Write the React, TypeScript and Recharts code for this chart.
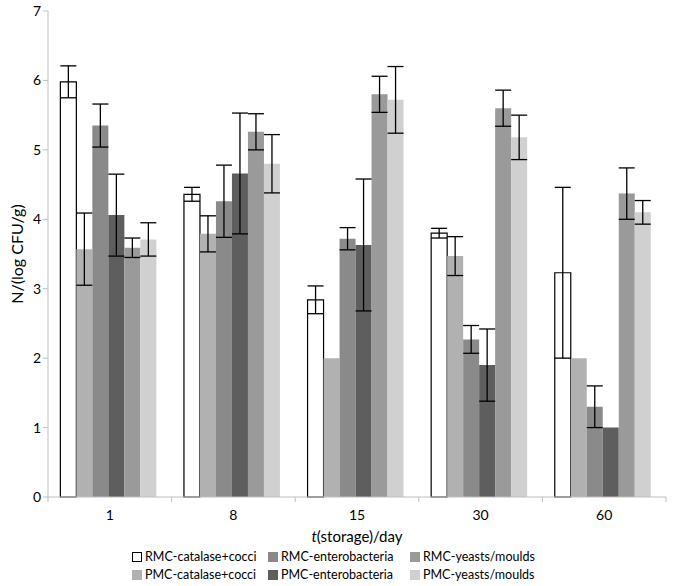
import { Bar, BarChart, ErrorBar, XAxis, YAxis } from "recharts";

const days = ["1", "8", "15", "30", "60"];

const rmcCatMean = [5.98, 4.36, 2.84, 3.8, 3.23];
const rmcCatErr = [0.23, 0.1, 0.2, 0.07, 1.23];
const pmcCatMean = [3.57, 3.79, 2.0, 3.47, 2.0];
const pmcCatErr = [0.52, 0.26, 0, 0.28, 0];
const rmcEntMean = [5.35, 4.26, 3.72, 2.27, 1.3];
const rmcEntErr = [0.31, 0.52, 0.16, 0.2, 0.3];
const pmcEntMean = [4.06, 4.66, 3.63, 1.9, 1.0];
const pmcEntErr = [0.59, 0.87, 0.95, 0.52, 0];
const rmcYeaMean = [3.59, 5.26, 5.8, 5.6, 4.37];
const rmcYeaErr = [0.14, 0.26, 0.26, 0.26, 0.37];
const pmcYeaMean = [3.71, 4.8, 5.72, 5.18, 4.1];
const pmcYeaErr = [0.24, 0.42, 0.48, 0.32, 0.17];

const yTicks = [0, 1, 2, 3, 4, 5, 6, 7];

const series = [
  { key: "rmcCat", name: "RMC-catalase+cocci", fill: "#ffffff", stroke: "#000000" },
  { key: "pmcCat", name: "PMC-catalase+cocci", fill: "#b1b1b1" },
  { key: "rmcEnt", name: "RMC-enterobacteria", fill: "#8a8a8a" },
  { key: "pmcEnt", name: "PMC-enterobacteria", fill: "#5e5e5e" },
  { key: "rmcYea", name: "RMC-yeasts/moulds", fill: "#9a9a9a" },
  { key: "pmcYea", name: "PMC-yeasts/moulds", fill: "#d0d0d0" },
];

const data = days.map((d, i) => ({
  day: d,
  rmcCat: rmcCatMean[i],
  rmcCatE: rmcCatErr[i],
  pmcCat: pmcCatMean[i],
  pmcCatE: pmcCatErr[i],
  rmcEnt: rmcEntMean[i],
  rmcEntE: rmcEntErr[i],
  pmcEnt: pmcEntMean[i],
  pmcEntE: pmcEntErr[i],
  rmcYea: rmcYeaMean[i],
  rmcYeaE: rmcYeaErr[i],
  pmcYea: pmcYeaMean[i],
  pmcYeaE: pmcYeaErr[i],
}));

const font = "Lato, 'Open Sans', sans-serif";
const W = 690;
const H = 586;
const margin = { top: 11, right: 24, left: 0, bottom: 59 };
const band = (W - 48 - margin.right) / days.length;

// x tick: label in the middle, tick marks on the band edges
function DayTick(props: any) {
  const { x, y, payload, index } = props;
  return (
    <g>
      <line x1={x - band / 2} x2={x - band / 2} y1={y - 8} y2={y - 3} stroke="#bfbfbf" />
      {index === days.length - 1 && (
        <line x1={x + band / 2} x2={x + band / 2} y1={y - 8} y2={y - 3} stroke="#bfbfbf" />
      )}
      <text x={x} y={y + 15} textAnchor="middle" fontSize={14} fill="#000" fontFamily={font}>
        {payload.value}
      </text>
    </g>
  );
}

function Legend() {
  const cols = [
    [series[0], series[1]],
    [series[2], series[3]],
    [series[4], series[5]],
  ];
  const lefts = [132, 268, 410];
  return (
    <>
      {cols.map((col, c) =>
        col.map((s, r) => (
          <div
            key={s.key}
            style={{
              position: "absolute",
              left: lefts[c],
              top: 549 + r * 18,
              display: "flex",
              alignItems: "center",
              fontFamily: font,
              fontSize: 12.5,
              color: "#000",
              whiteSpace: "nowrap",
            }}
          >
            <span
              style={{
                display: "inline-block",
                width: 8,
                height: 8,
                background: s.fill,
                border: s.stroke ? "1px solid #000" : "1px solid " + s.fill,
                marginRight: 3,
              }}
            />
            {s.name}
          </div>
        ))
      )}
    </>
  );
}

export default function App() {
  return (
    <div style={{ position: "absolute", left: 0, top: 0, width: W, height: H, background: "#fff" }}>
      <BarChart
        width={W}
        height={H}
        data={data}
        margin={margin}
        barCategoryGap="10%"
        barGap={0}
      >
        <XAxis
          dataKey="day"
          stroke="#bfbfbf"
          tickLine={false}
          tick={<DayTick />}
          height={30}
        />
        <YAxis
          width={48}
          domain={[0, 7]}
          ticks={yTicks}
          interval={0}
          stroke="#bfbfbf"
          tickSize={5}
          tick={{ fontSize: 14, fill: "#000", fontFamily: font }}
          label={{
            value: "N/(log CFU/g)",
            angle: -90,
            position: "insideLeft",
            offset: 17,
            fontSize: 16,
            fill: "#000",
            fontFamily: font,
            style: { textAnchor: "middle" },
          }}
        />
        {series.map((s) => (
          <Bar
            key={s.key}
            dataKey={s.key}
            name={s.name}
            fill={s.fill}
            stroke={s.stroke ?? "none"}
            strokeWidth={s.stroke ? 1.2 : 0}
            isAnimationActive={false}
          >
            <ErrorBar dataKey={s.key + "E"} width={8} stroke="#000" strokeWidth={1.3} />
          </Bar>
        ))}
      </BarChart>
      <div
        style={{
          position: "absolute",
          left: 48,
          width: W - 48 - margin.right,
          top: 527,
          textAlign: "center",
          fontFamily: font,
          fontSize: 15,
          color: "#000",
        }}
      >
        <i>t</i>(storage)/day
      </div>
      <Legend />
    </div>
  );
}
